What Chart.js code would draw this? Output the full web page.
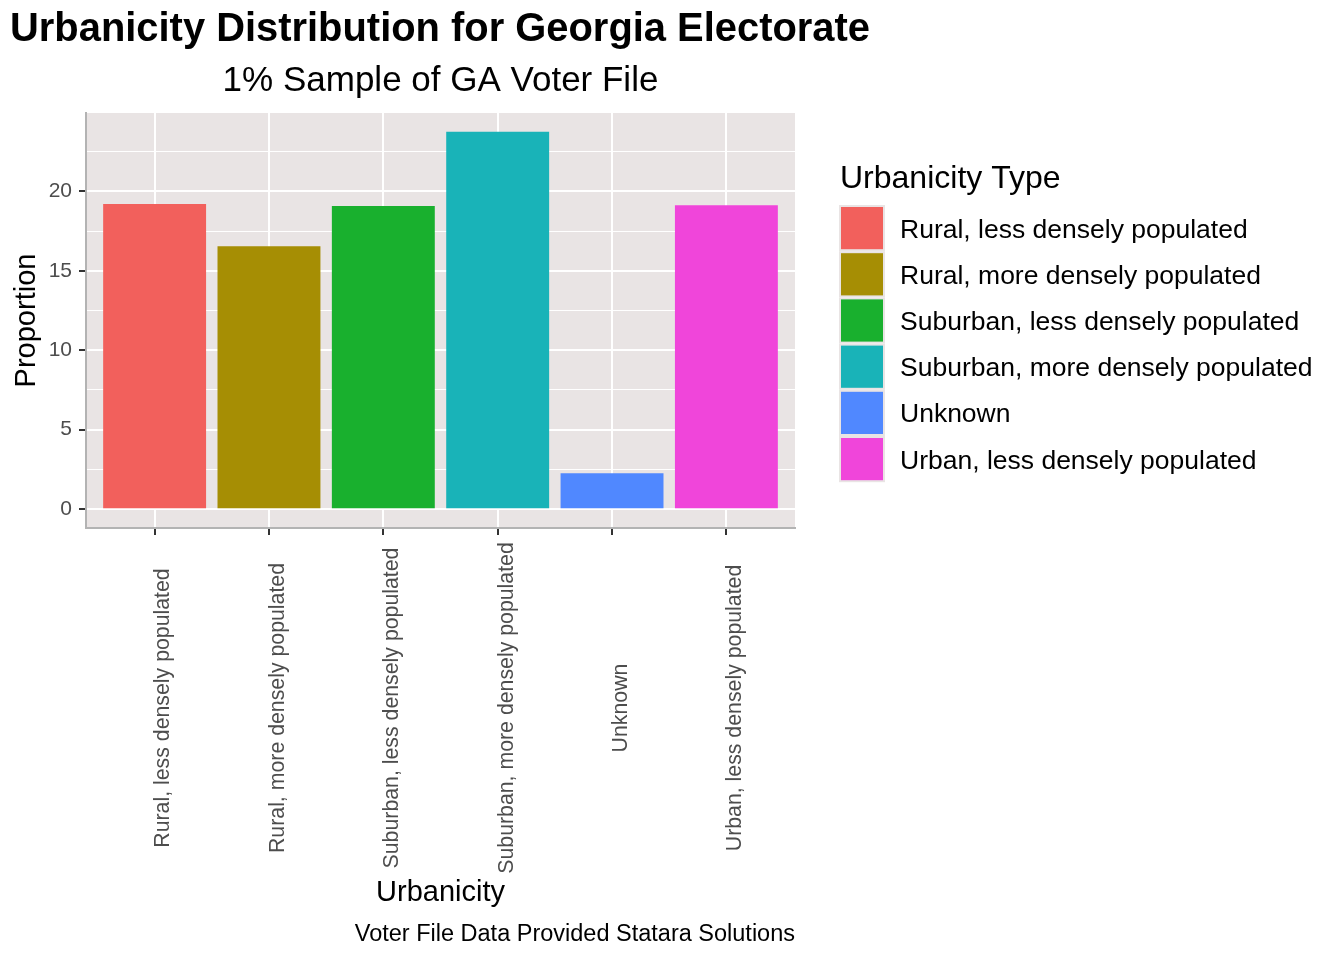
<!DOCTYPE html>
<html>
<head>
<meta charset="utf-8">
<title>Urbanicity Distribution for Georgia Electorate</title>
<script src="https://cdn.jsdelivr.net/npm/chart.js@4.4.1/dist/chart.umd.min.js"></script>
<style>
  html, body { margin: 0; padding: 0; background: #fff; }
  #wrap { position: relative; width: 1344px; height: 960px; }
</style>
</head>
<body>
<div id="wrap"><canvas id="chart"></canvas></div>
<script>
// data
const categories = [
  'Rural, less densely populated',
  'Rural, more densely populated',
  'Suburban, less densely populated',
  'Suburban, more densely populated',
  'Unknown',
  'Urban, less densely populated'
];
const proportions = [19.2, 16.55, 19.07, 23.74, 2.26, 19.13];
const barColors = ['#F2605C', '#A68E04', '#19B02E', '#19B3B8', '#5088FF', '#F045DA'];
const yTicks = [0, 5, 10, 15, 20];
const yMinorTicks = [2.5, 7.5, 12.5, 17.5, 22.5];

const titleText = 'Urbanicity Distribution for Georgia Electorate';
const subtitleText = '1% Sample of GA Voter File';
const captionText = 'Voter File Data Provided Statara Solutions';
const legendTitle = 'Urbanicity Type';
const xTitle = 'Urbanicity';
const yTitle = 'Proportion';

const FONT = '"Liberation Sans", Arial, Helvetica, sans-serif';
const PANEL_BG = '#e9e4e4';
Chart.defaults.font.family = FONT;

const yMax = Math.max(...proportions);
const isMajor = v => yTicks.includes(v);

// grey panel behind the bars
const panelBg = {
  id: 'panelBg',
  beforeDraw(chart) {
    const { ctx, chartArea: a } = chart;
    ctx.save();
    ctx.fillStyle = PANEL_BG;
    ctx.fillRect(a.left, a.top, a.right - a.left, a.bottom - a.top);
    ctx.restore();
  }
};

// titles, centred rotated x labels, caption and the fill legend
const ggText = {
  id: 'ggText',
  afterDraw(chart) {
    const { ctx, chartArea: a } = chart;
    const xs = chart.scales.x;
    ctx.save();
    ctx.textBaseline = 'alphabetic';
    ctx.fillStyle = '#000';

    ctx.font = `bold 39.9px ${FONT}`;
    ctx.textAlign = 'left';
    ctx.fillText(titleText, 10, 41);

    ctx.font = `35px ${FONT}`;
    ctx.textAlign = 'center';
    ctx.fillText(subtitleText, (a.left + a.right) / 2, 91);

    // x tick labels, rotated 90 and centred along the axis like hjust = 0.5
    ctx.font = `21.3px ${FONT}`;
    ctx.fillStyle = '#4d4d4d';
    xs.ticks.forEach(t => {
      const x = xs.getPixelForValue(t.value);
      ctx.save();
      ctx.translate(x + 9, 708);
      ctx.rotate(-Math.PI / 2);
      ctx.textAlign = 'center';
      ctx.textBaseline = 'middle';
      ctx.fillText(categories[t.value - 1], 0, 0);
      ctx.restore();
    });

    ctx.fillStyle = '#000';
    ctx.font = `23.5px ${FONT}`;
    ctx.textAlign = 'right';
    ctx.fillText(captionText, a.right, 941);

    // legend
    ctx.textAlign = 'left';
    ctx.font = `32px ${FONT}`;
    ctx.fillText(legendTitle, 840, 188);
    const keyH = 46.2;
    ctx.font = `26.5px ${FONT}`;
    categories.forEach((c, i) => {
      const top = 205 + i * keyH;
      ctx.fillStyle = PANEL_BG;
      ctx.fillRect(839, top, 46, keyH);
      ctx.fillStyle = barColors[i];
      ctx.fillRect(841, top + 2, 42, keyH - 4);
      ctx.fillStyle = '#000';
      ctx.fillText(c, 900, top + keyH / 2 + 26.5 * 0.358);
    });
    ctx.restore();
  }
};

new Chart(document.getElementById('chart'), {
  type: 'bar',
  data: {
    datasets: [{
      label: yTitle,
      data: proportions.map((v, i) => ({ x: i + 1, y: v })),
      backgroundColor: barColors,
      borderWidth: 0,
      barPercentage: 0.9,
      categoryPercentage: 1.0
    }]
  },
  options: {
    responsive: true,
    maintainAspectRatio: false,
    animation: false,
    layout: { padding: { left: 0, top: 113, right: 549, bottom: 50 } },
    plugins: {
      legend: { display: false },
      tooltip: { enabled: false }
    },
    scales: {
      x: {
        type: 'linear',
        min: 0.4,
        max: 6.6,
        offset: false,
        afterBuildTicks: s => { s.ticks = categories.map((c, i) => ({ value: i + 1 })); },
        afterFit: s => { s.height = 382; },
        ticks: { display: false },
        grid: { offset: false, color: '#fff', lineWidth: 2, tickLength: 7, tickColor: '#333', tickWidth: 2 },
        border: { display: true, color: '#b3b3b3', width: 2 },
        title: { display: true, text: xTitle, color: '#000', font: { size: 29 }, padding: { top: 0, bottom: 0 } }
      },
      y: {
        min: -0.05 * yMax,
        max: 1.05 * yMax,
        afterBuildTicks: s => {
          s.ticks = [...yTicks, ...yMinorTicks].sort((p, q) => p - q).map(v => ({ value: v }));
        },
        afterFit: s => { s.width = 86; },
        ticks: {
          autoSkip: false,
          color: '#4d4d4d',
          font: { size: 21 },
          padding: 7,
          callback: v => (isMajor(v) ? String(v) : '')
        },
        grid: {
          color: '#fff',
          lineWidth: c => (isMajor(c.tick.value) ? 2 : 1),
          tickLength: 7,
          tickWidth: 2,
          tickColor: c => (isMajor(c.tick.value) ? '#333' : 'rgba(0,0,0,0)')
        },
        border: { display: true, color: '#b3b3b3', width: 2 },
        title: { display: true, text: yTitle, color: '#000', font: { size: 29 }, padding: { top: 10, bottom: 0 } }
      }
    }
  },
  plugins: [panelBg, ggText]
});
</script>
</body>
</html>
